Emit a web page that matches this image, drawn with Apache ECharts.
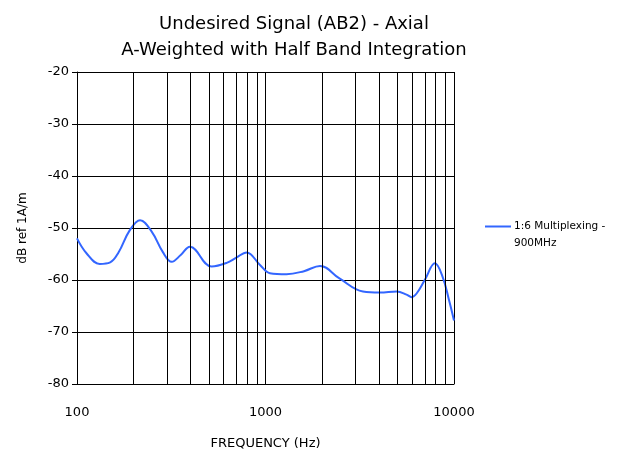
<!DOCTYPE html>
<html><head><meta charset="utf-8">
<script src="https://cdn.jsdelivr.net/npm/echarts@6/dist/echarts.min.js"></script>
<style>html,body{margin:0;padding:0;background:#fff}#c{width:624px;height:456px}</style>
</head><body><div id="c"></div>
<script>
var titleLines = ['Undesired Signal (AB2) - Axial', 'A-Weighted with Half Band Integration'];
var seriesName = '1:6 Multiplexing - 900MHz';
var freq = [100, 112, 132, 150, 166, 190, 216, 249, 285, 318, 355, 397, 518, 623, 700, 794, 935, 1055, 1293, 1600, 1948, 2468, 3287, 4045, 4971, 5600, 5966, 6332, 6996, 7920, 8700, 9400, 10000];
var level = [-52, -54.8, -56.9, -56.6, -54.7, -50.5, -48.5, -50.7, -54.6, -56.5, -55.2, -53.6, -57.4, -56.7, -55.7, -54.7, -57.1, -58.7, -58.9, -58.3, -57.3, -59.7, -62.2, -62.4, -62.2, -62.8, -63.3, -62.6, -60, -56.8, -59.4, -63.8, -67.8];
var yTicks = [-80, -70, -60, -50, -40, -30, -20];
var minorFreqs = [200, 300, 400, 500, 600, 700, 800, 900, 2000, 3000, 4000, 5000, 6000, 7000, 8000, 9000];

var data = freq.map(function (f, i) { return [f, level[i]]; });
var font = '"DejaVu Sans", sans-serif';
var chart = echarts.init(document.getElementById('c'), null, {renderer: 'canvas'});
chart.setOption({
  animation: false,
  backgroundColor: '#fff',
  title: {
    text: titleLines.join('\n'),
    left: 289, top: 6, textAlign: 'center',
    textStyle: {fontFamily: font, fontSize: 18, fontWeight: 'normal', color: '#000', lineHeight: 26}
  },
  legend: {
    left: 485, top: 201, orient: 'vertical', padding: 0,
    icon: 'rect', itemWidth: 26, itemHeight: 2, itemGap: 6,
    formatter: function (n) { return '\n' + n.replace(' - ', ' -\n'); },
    textStyle: {fontFamily: font, fontSize: 10.5, color: '#000', lineHeight: 17, padding: [0, 0, 0, -2]}
  },
  grid: {left: 77, right: 170, top: 72, bottom: 72, containLabel: false},
  xAxis: {
    type: 'log', logBase: 10, min: 100, max: 10000,
    name: 'FREQUENCY (Hz)', nameLocation: 'middle', nameGap: 53,
    nameTextStyle: {fontFamily: font, fontSize: 13, color: '#000'},
    axisLine: {show: true, onZero: false, lineStyle: {color: '#000', width: 1}},
    axisTick: {show: false},
    axisLabel: {fontFamily: font, fontSize: 13, color: '#000', margin: 22,
      formatter: function (v) { return String(Math.round(v)); }},
    splitLine: {show: true, lineStyle: {color: '#000', width: 1}}
  },
  yAxis: {
    type: 'value', min: yTicks[0], max: yTicks[yTicks.length - 1], interval: 10,
    name: 'dB ref 1A/m', nameLocation: 'middle', nameGap: 48,
    nameTextStyle: {fontFamily: font, fontSize: 12, color: '#000'},
    axisLine: {show: true, onZero: false, lineStyle: {color: '#000', width: 1}},
    axisTick: {show: true, length: 5, lineStyle: {color: '#000'}},
    axisLabel: {fontFamily: font, fontSize: 13, color: '#000', margin: 8},
    splitLine: {show: true, lineStyle: {color: '#000', width: 1}}
  },
  series: [{
    name: seriesName, type: 'line', data: data, smooth: 0.4,
    showSymbol: false, symbol: 'none',
    lineStyle: {color: '#3366ff', width: 2},
    itemStyle: {color: '#3366ff'},
    markLine: {
      silent: true, symbol: 'none', label: {show: false},
      lineStyle: {color: '#000', width: 1, type: 'solid'},
      data: minorFreqs.map(function (f) { return {xAxis: f}; })
    }
  }]
});
</script></body></html>
